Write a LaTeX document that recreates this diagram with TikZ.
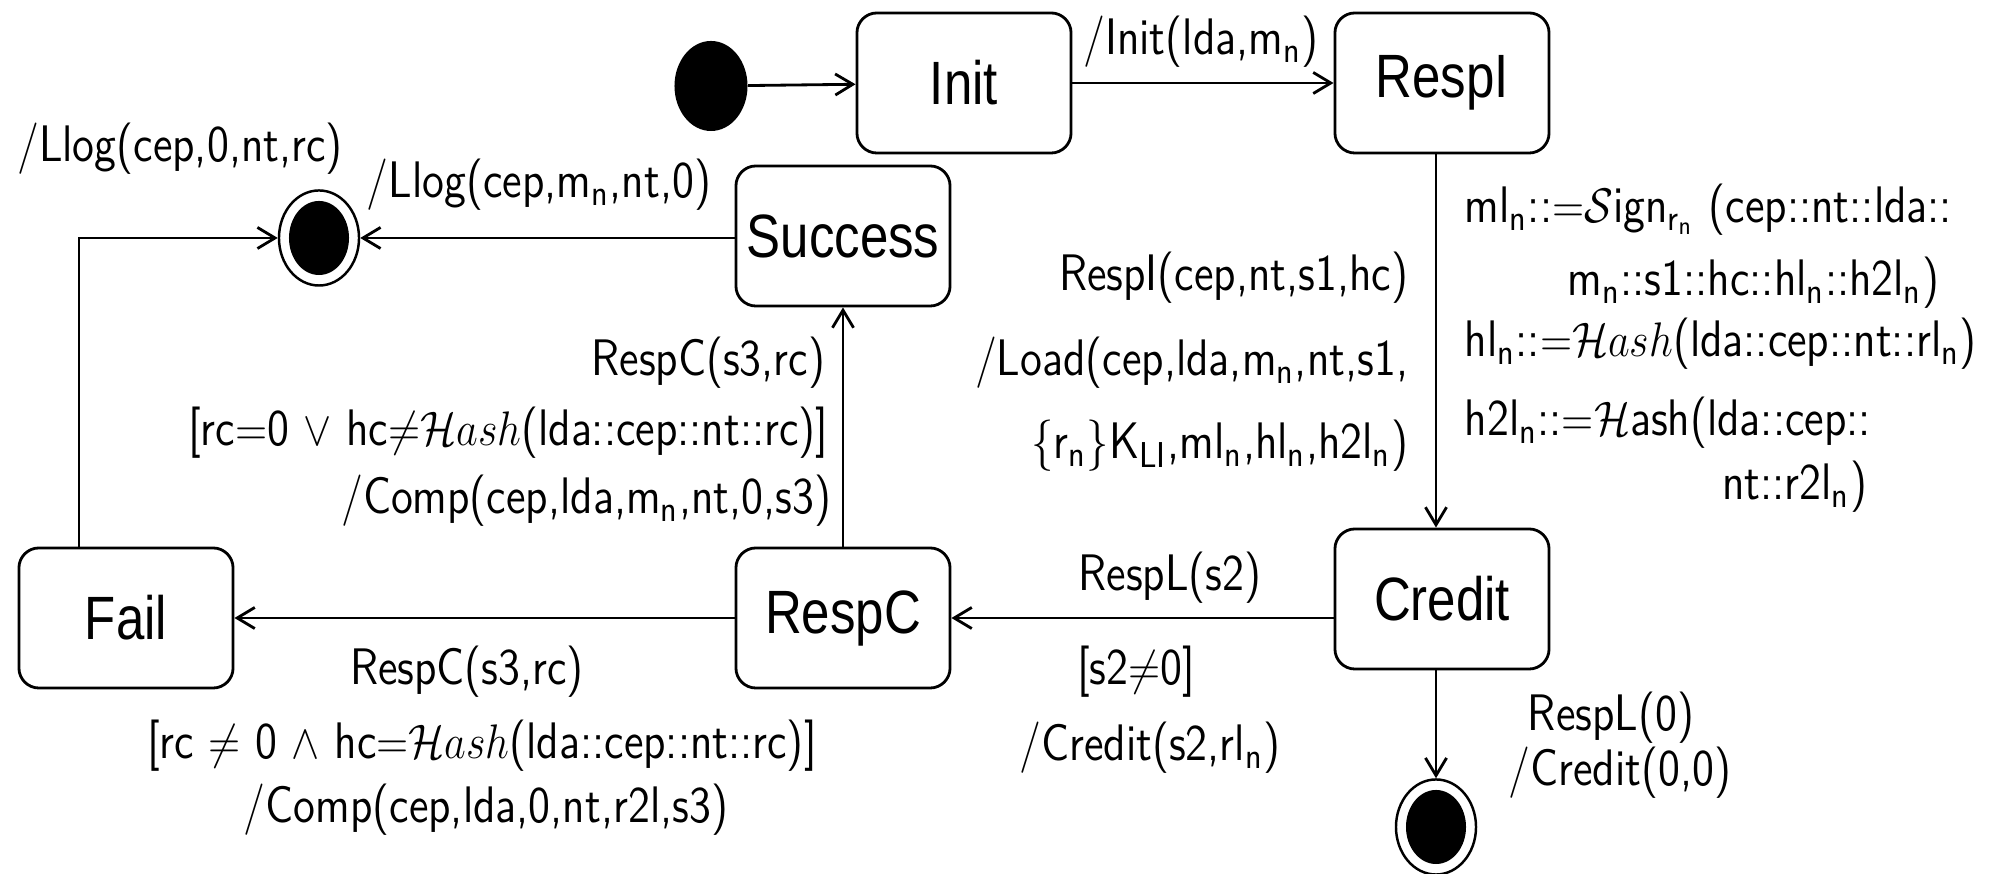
\documentclass[tikz,border=0pt]{standalone}
\usepackage{fontspec}
\usepackage{graphicx}
\newfontfamily\helv{Liberation Sans}
\usetikzlibrary{arrows.meta,shapes.geometric}

% vertically stretched text, as in the printed figure
\newcommand\ys[1]{\scalebox{1}[1.15]{#1}}
\newcommand\yst[1]{\scalebox{1}[1.2]{#1}}
\newcommand\subs[1]{\ensuremath{_{\mathsf{#1}}}}
\newcommand\Hash{\ensuremath{\mathcal{H}ash}}

\begin{document}
\begin{tikzpicture}[x=0.01cm,y=-0.01cm,
  state/.style={draw, line width=0.8pt, rounded corners=0.2cm,
    minimum width=2.14cm, minimum height=1.4cm, inner sep=0pt,
    font=\helv\fontsize{14.5}{17}\selectfont},
  lbl/.style={inner sep=0pt, font=\sffamily\fontsize{12.7}{15}\selectfont},
  arr/.style={line width=0.8pt, -{Straight Barb[length=5pt,width=6pt]}},
  start/.style={ellipse, fill, minimum width=0.73cm, minimum height=0.9cm, inner sep=0pt},
  final/.style={ellipse, draw, line width=0.7pt, minimum width=0.8cm,
    minimum height=0.95cm, inner sep=0pt}]

\useasboundingbox (0,0) rectangle (1999,874);

% states
\node[state] (Init)    at (964,83)   {\yst{Init}};
\node[state] (RespI)   at (1442,83)  {\yst{RespI}};
\node[state] (Success) at (843,236)  {\yst{Success}};
\node[state] (Fail)    at (126,618)  {\yst{Fail}};
\node[state] (RespC)   at (843,618)  {\yst{RespC}};
\node[state] (Credit)  at (1442,599) {\yst{Credit}};

% pseudo states
\node[start] (s0) at (711,86) {};
\node[final] (f1) at (319,238) {};
\fill (f1.center) ellipse [x radius=0.3cm, y radius=0.37cm];
\node[final] (f2) at (1436,827) {};
\fill (f2.center) ellipse [x radius=0.3cm, y radius=0.37cm];

% transitions
\draw[arr] (s0) -- (Init);
\draw[arr] (Init) -- (RespI);
\draw[arr] (RespI.south -| f2) -- (Credit.north -| f2);
\draw[arr] (RespC -| Credit.west) -- (RespC);
\draw[arr] (RespC) -- (Fail);
\draw[arr] (RespC) -- (Success);
\draw[arr] (Success.west |- f1) -- (f1);
\draw[arr] ([xshift=-0.47cm]Fail.north) |- (f1);
\draw[arr] (Credit.south -| f2) -- (f2);

% transition labels
\node[lbl] at (1201,42) {\ys{/Init(lda,m\subs{n})}};
\node[lbl] at (180,149) {\ys{/Llog(cep,0,nt,rc)}};
\node[lbl] at (539,185) {\ys{/Llog(cep,m\subs{n},nt,0)}};

\node[lbl, anchor=west] at (1464,210) {\ys{ml\subs{n}::$=$$\mathcal{S}$ign\subs{r_n} (cep::nt::lda::}};
\node[lbl, anchor=east] at (1940,283) {\ys{m\subs{n}::s1::hc::hl\subs{n}::h2l\subs{n})}};
\node[lbl, anchor=west] at (1464,344) {\ys{hl\subs{n}::$=$\Hash(lda::cep::nt::rl\subs{n})}};
\node[lbl, anchor=west] at (1464,423) {\ys{h2l\subs{n}::$=$$\mathcal{H}$ash(lda::cep::}};
\node[lbl, anchor=east] at (1868,487) {\ys{nt::r2l\subs{n})}};

\node[lbl, anchor=east] at (1409,278) {\ys{RespI(cep,nt,s1,hc)}};
\node[lbl, anchor=east] at (1409,363) {\ys{/Load(cep,lda,m\subs{n},nt,s1,}};
\node[lbl, anchor=east] at (1409,446) {\ys{\{r\subs{n}\}K\subs{LI},ml\subs{n},hl\subs{n},h2l\subs{n})}};

\node[lbl, anchor=east] at (826,363) {\ys{RespC(s3,rc)}};
\node[lbl, anchor=east] at (829,433) {\ys{[rc$=$0 $\vee$ hc$\neq$\Hash(lda::cep::nt::rc)]}};
\node[lbl, anchor=east] at (832,501) {\ys{/Comp(cep,lda,m\subs{n},nt,0,s3)}};

\node[lbl] at (1170,578) {\ys{RespL(s2)}};
\node[lbl] at (1136,672) {\ys{[s2$\neq$0]}};
\node[lbl] at (1150,748) {\ys{/Credit(s2,rl\subs{n})}};

\node[lbl] at (467,672) {\ys{RespC(s3,rc)}};
\node[lbl] at (482,746) {\ys{[rc $\neq$ 0 $\wedge$ hc$=$\Hash(lda::cep::nt::rc)]}};
\node[lbl] at (486,810) {\ys{/Comp(cep,lda,0,nt,r2l,s3)}};

\node[lbl] at (1611,718) {\ys{RespL(0)}};
\node[lbl] at (1620,773) {\ys{/Credit(0,0)}};
\end{tikzpicture}
\end{document}
